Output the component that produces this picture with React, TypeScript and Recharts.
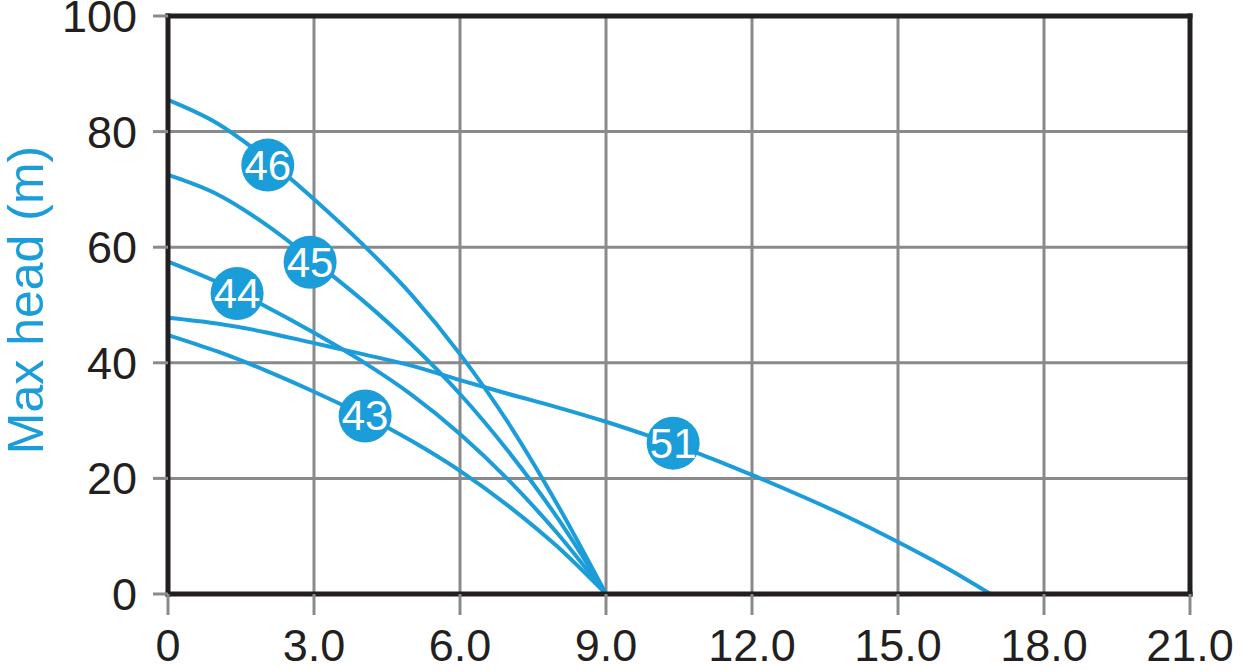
import { LineChart, Line, XAxis, YAxis, CartesianGrid, ReferenceLine, ReferenceDot, Label } from 'recharts';

// pump curves: flow (x) vs max head in metres (y)
const xTicks = [0, 3, 6, 9, 12, 15, 18, 21];
const yTicks = [0, 20, 40, 60, 80, 100];

const curve46 = [[0, 85.5], [1, 81.5], [2, 75.5], [3, 68.3], [4, 60.5], [5, 51.8], [6, 41.5], [7, 29.5], [8, 15.5], [9, 0]];
const curve45 = [[0, 72.5], [1, 69.2], [2, 64], [3, 57.6], [4, 50.8], [5, 43.2], [6, 34.6], [7, 24.6], [8, 13.2], [9, 0]];
const curve44 = [[0, 57.5], [1, 54], [2, 49.8], [3, 45.2], [4, 40.2], [5, 34.5], [6, 27.7], [7, 19.7], [8, 10.5], [9, 0]];
const curve43 = [[0, 44.8], [1, 42], [2, 38.7], [3, 35], [4, 31], [5, 26.5], [6, 21.3], [7, 15.2], [8, 8.2], [9, 0]];
const curve51 = [[0, 47.8], [1, 46.8], [2, 45.3], [3, 43.4], [4, 41.5], [5, 39.5], [6, 37], [7, 34.6], [8, 32.3], [9, 29.8],
  [10, 27], [11, 24], [12, 20.6], [13, 17], [14, 13.2], [15, 9], [16, 4.5], [16.9, 0]];

const curves = [
  { name: '46', pts: curve46 },
  { name: '45', pts: curve45 },
  { name: '44', pts: curve44 },
  { name: '43', pts: curve43 },
  { name: '51', pts: curve51 },
];

// badge positions along each curve
const badges = [
  { name: '46', q: 2.05, h: 74.2 },
  { name: '45', q: 2.92, h: 57.4 },
  { name: '44', q: 1.42, h: 52 },
  { name: '43', q: 4.05, h: 30.8 },
  { name: '51', q: 10.38, h: 26.1 },
];

const BLUE = '#1b9dd9';
const INK = '#231f20';
const GRID = '#8a8a8c';
const tickFont = { fill: INK, fontSize: 45, fontFamily: '"Liberation Sans", Arial, sans-serif' };

function Badge({ cx, cy, text }: { cx?: number; cy?: number; text: string }) {
  if (cx == null || cy == null) return null;
  return (
    <g>
      <circle cx={cx} cy={cy} r={26.5} fill={BLUE} />
      <text x={cx} y={cy} textAnchor="middle" dominantBaseline="central" fill="#fff"
        fontSize={42} fontFamily='"Liberation Sans Narrow", "Arial Narrow", "Liberation Sans", sans-serif'>{text}</text>
    </g>
  );
}

export default function App() {
  return (
    <div style={{ position: 'absolute', left: 0, top: 0, background: '#fff' }}>
      <LineChart width={1243} height={671} margin={{ top: 16, right: 53, bottom: 0, left: 0 }}>
        <CartesianGrid stroke={GRID} strokeWidth={3} />
        <XAxis dataKey="q" type="number" domain={[0, 21]} ticks={xTicks} interval={0}
          tickFormatter={(v) => (v === 0 ? '0' : v.toFixed(1))}
          axisLine={false} tickSize={21} tickMargin={14}
          tickLine={{ stroke: GRID, strokeWidth: 3 }} tick={tickFont} height={77} />
        <YAxis type="number" domain={[0, 100]} ticks={yTicks} interval={0} width={168}
          axisLine={false} tickSize={15} tickMargin={16}
          tickLine={{ stroke: GRID, strokeWidth: 3 }} tick={tickFont}>
          <Label content={({ viewBox }: any) => {
            const cy = viewBox.y + viewBox.height / 2 - 5;
            const cx = 26;
            return (
              <text x={cx} y={cy} transform={`rotate(-90 ${cx} ${cy})`} textAnchor="middle" dominantBaseline="central"
                fill={BLUE} fontSize={50} fontFamily='"Liberation Sans", Arial, sans-serif'>Max head (m)</text>
            );
          }} />
        </YAxis>
        {curves.map((c) => (
          <Line key={c.name} data={c.pts.map(([q, h]) => ({ q, h }))} dataKey="h" type="monotone"
            stroke={BLUE} strokeWidth={4} dot={false} activeDot={false} isAnimationActive={false} />
        ))}
        <ReferenceLine x={0} stroke={INK} strokeWidth={5} strokeLinecap="square" />
        <ReferenceLine x={21} stroke={INK} strokeWidth={5} strokeLinecap="square" />
        <ReferenceLine y={0} stroke={INK} strokeWidth={5} strokeLinecap="square" />
        <ReferenceLine y={100} stroke={INK} strokeWidth={5} strokeLinecap="square" />
        {badges.map((b) => (
          <ReferenceDot key={b.name} x={b.q} y={b.h} r={26.5} isFront
            shape={(p: any) => <Badge cx={p.cx} cy={p.cy} text={b.name} />} />
        ))}
      </LineChart>
    </div>
  );
}
